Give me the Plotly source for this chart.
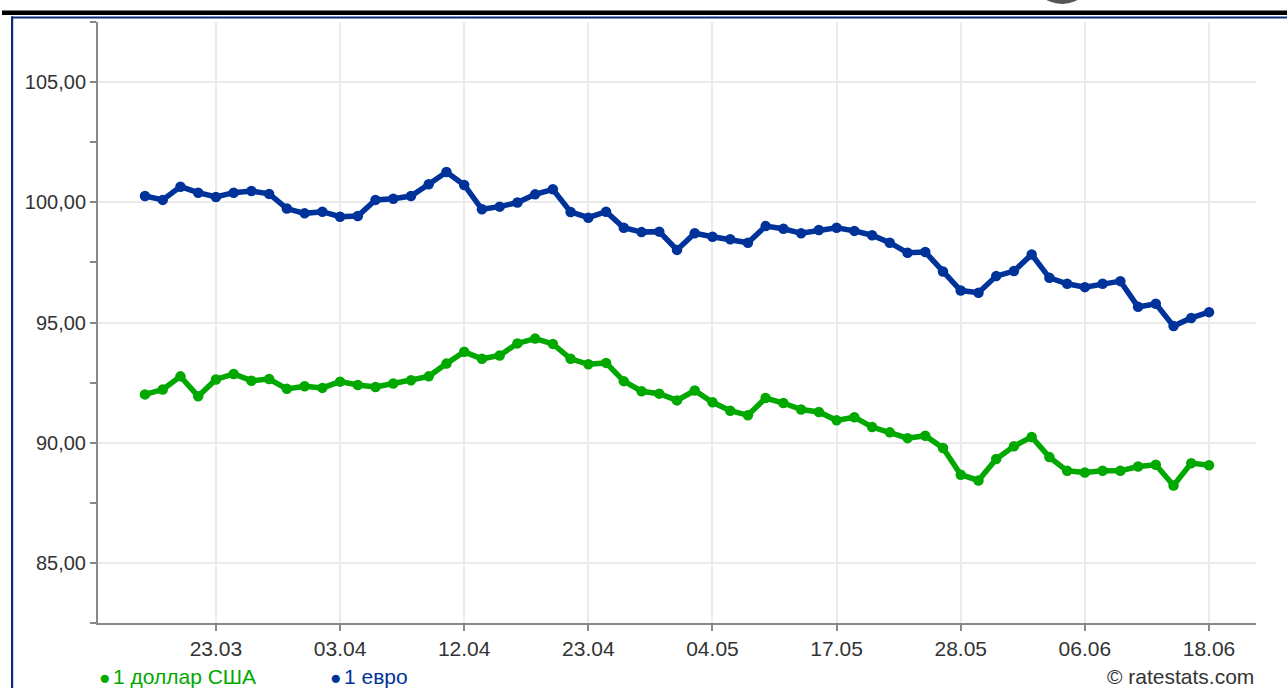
import plotly.graph_objects as go

dates = ["19.03","20.03","21.03","22.03","23.03","26.03","27.03","28.03","29.03","30.03",
         "02.04","03.04","04.04","05.04","06.04","09.04","10.04","11.04","12.04","13.04",
         "16.04","17.04","18.04","19.04","20.04","23.04","24.04","25.04","26.04","27.04",
         "28.04","03.05","04.05","07.05","08.05","09.05","14.05","15.05","16.05","17.05",
         "18.05","21.05","22.05","23.05","24.05","25.05","28.05","29.05","30.05","31.05",
         "01.06","04.06","05.06","06.06","07.06","08.06","11.06","12.06","14.06","15.06",
         "18.06"]

usd = [92.01,92.21,92.76,91.93,92.63,92.86,92.58,92.65,92.24,92.35,92.28,92.54,92.40,92.32,92.46,92.60,
       92.76,93.29,93.78,93.49,93.63,94.13,94.33,94.11,93.49,93.26,93.32,92.56,92.14,92.04,91.76,
       92.17,91.68,91.33,91.14,91.86,91.65,91.38,91.28,90.93,91.06,90.65,90.43,90.19,90.29,89.78,
       88.67,88.43,89.32,89.85,90.24,89.40,88.83,88.76,88.83,88.83,89.01,89.08,88.22,89.15,89.06]

eur = [100.26,100.10,100.65,100.40,100.22,100.40,100.47,100.35,99.74,99.54,99.61,99.40,99.43,100.10,100.15,100.26,
       100.75,101.26,100.72,99.71,99.82,99.99,100.33,100.54,99.60,99.36,99.61,98.94,98.76,98.78,98.02,
       98.71,98.57,98.46,98.32,99.01,98.90,98.71,98.85,98.94,98.81,98.63,98.32,97.90,97.93,97.12,
       96.33,96.24,96.93,97.14,97.83,96.86,96.61,96.47,96.61,96.72,95.65,95.78,94.85,95.19,95.43]

tick_dates = ["23.03","03.04","12.04","23.04","04.05","17.05","28.05","06.06","18.06"]

series_names = ["1 доллар США", "1 евро"]
GREEN = "#00a800"
BLUE = "#00339a"
FONT = "Liberation Sans, Arial, sans-serif"

fig = go.Figure()
fig.add_trace(go.Scatter(x=dates, y=usd, mode="lines+markers", name=series_names[0],
                         line=dict(color=GREEN, width=5.5), marker=dict(color=GREEN, size=10.5),
                         showlegend=False, cliponaxis=False))
fig.add_trace(go.Scatter(x=dates, y=eur, mode="lines+markers", name=series_names[1],
                         line=dict(color=BLUE, width=5.5), marker=dict(color=BLUE, size=10.5),
                         showlegend=False, cliponaxis=False))

W, H = 1287, 688
L, R, T, B = 98, 31, 22, 65
pw, ph = W - L - R, H - T - B

def px(x):
    return (x - L) / pw

def py(y):
    return 1 - (y - T) / ph

shapes = [
    dict(type="rect", xref="paper", yref="paper", x0=px(2), x1=px(1290), y0=py(15), y1=py(10.5),
         fillcolor="#000000", line=dict(width=0), layer="above"),
    dict(type="rect", xref="paper", yref="paper", x0=px(11), x1=px(1290), y0=py(18.5), y1=py(16.5),
         fillcolor="#0a2a7a", line=dict(width=0), layer="above"),
    dict(type="rect", xref="paper", yref="paper", x0=px(11), x1=px(13.2), y0=py(690), y1=py(16.5),
         fillcolor="#0a2a7a", line=dict(width=0), layer="above"),
    dict(type="circle", xref="paper", yref="paper", x0=px(1030), x1=px(1094), y0=py(4), y1=py(-60),
         fillcolor="#555555", line=dict(width=0), layer="above"),
]

LEG_Y = 676
annotations = [
    dict(xref="paper", yref="paper", x=px(104), y=py(LEG_Y + 1), text="●", showarrow=False,
         font=dict(family=FONT, size=19, color=GREEN), xanchor="center", yanchor="middle"),
    dict(xref="paper", yref="paper", x=px(111), y=py(LEG_Y), text=series_names[0], showarrow=False,
         font=dict(family=FONT, size=21, color=GREEN), xanchor="left", yanchor="middle"),
    dict(xref="paper", yref="paper", x=px(335), y=py(LEG_Y + 1), text="●", showarrow=False,
         font=dict(family=FONT, size=19, color=BLUE), xanchor="center", yanchor="middle"),
    dict(xref="paper", yref="paper", x=px(342), y=py(LEG_Y), text=series_names[1], showarrow=False,
         font=dict(family=FONT, size=21, color=BLUE), xanchor="left", yanchor="middle"),
    dict(xref="paper", yref="paper", x=px(1256), y=py(LEG_Y), text="© ratestats.com", showarrow=False,
         font=dict(family=FONT, size=21, color="#333333"), xanchor="right", yanchor="middle"),
]

fig.update_layout(
    width=W, height=H,
    margin=dict(l=L, r=R, t=T, b=B, pad=0),
    paper_bgcolor="white", plot_bgcolor="white",
    separators=", ",
    font=dict(family=FONT, color="#333333"),
    shapes=shapes, annotations=annotations,
    xaxis=dict(type="category", range=[-2.65, 62.65], tickmode="array", tickvals=tick_dates,
               ticktext=tick_dates, showgrid=True, gridcolor="#ebebeb", gridwidth=1.5,
               showline=True, linecolor="#888888", linewidth=2, ticks="outside", ticklen=6,
               tickcolor="#888888", tickwidth=1.5, tickfont=dict(size=21, color="#333333"),
               zeroline=False),
    yaxis=dict(range=[82.5, 107.5], tick0=0, dtick=5, tickformat=".2f", showgrid=True,
               gridcolor="#ebebeb", gridwidth=1.5, showline=True, linecolor="#888888", linewidth=2,
               ticks="outside", ticklen=6, tickcolor="#888888", tickwidth=1.5,
               tickfont=dict(size=20, color="#333333"), zeroline=False,
               minor=dict(dtick=2.5, tick0=0, ticks="outside", ticklen=6, tickcolor="#888888",
                          tickwidth=1.5, showgrid=False)),
)

fig.write_html("out.html", config={"displayModeBar": False},
               post_script="document.body.style.margin='0px';document.body.style.overflow='hidden';")
